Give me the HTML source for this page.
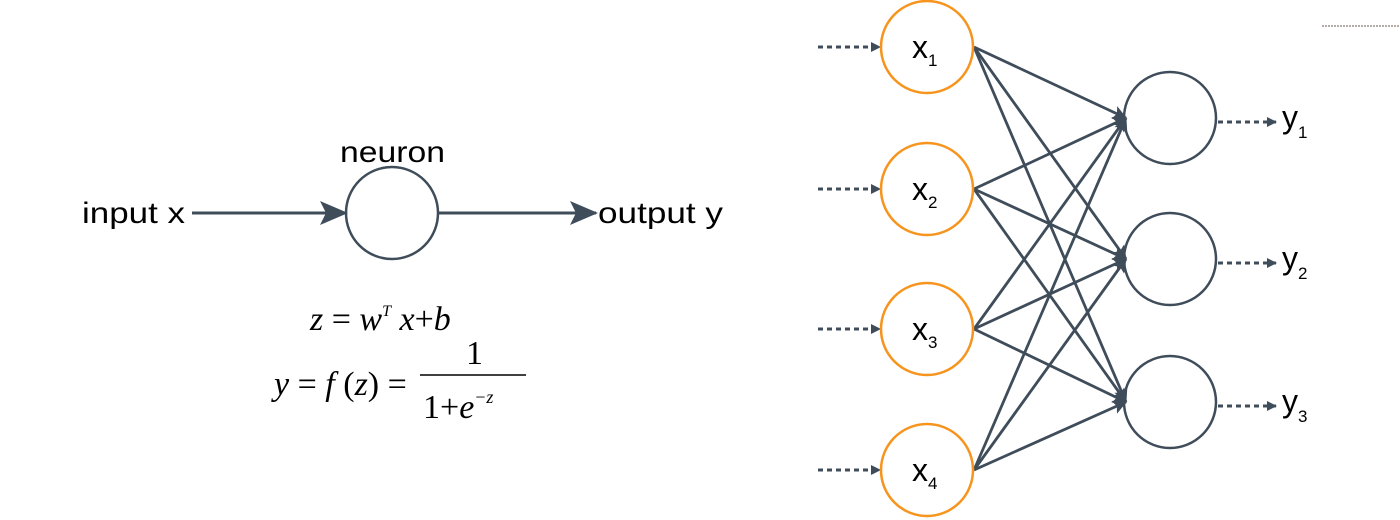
<!DOCTYPE html>
<html><head><meta charset="utf-8"><style>
html,body{margin:0;padding:0;background:#fff;width:1400px;height:520px;overflow:hidden}
svg text{font-family:"Liberation Sans","DejaVu Sans",sans-serif;fill:#000}
.m{font-family:"Liberation Serif",serif;font-style:italic}
</style></head><body>
<svg width="1400" height="520" viewBox="0 0 1400 520">
<defs>
<marker id="ah" markerWidth="10" markerHeight="10" refX="9" refY="5" orient="auto" markerUnits="userSpaceOnUse"><path d="M0,0 L10,5 L0,10 Z" fill="#3f4c5a"/></marker>
<marker id="ahb" markerWidth="28" markerHeight="24" refX="26" refY="12" orient="auto" markerUnits="userSpaceOnUse"><path d="M0,0 L28,12 L0,24 L6,12 Z" fill="#3f4c5a"/></marker>
<marker id="ahm" markerWidth="14" markerHeight="14" refX="13" refY="7" orient="auto" markerUnits="userSpaceOnUse"><path d="M0,0 L14,7 L0,14 L3,7 Z" fill="#3f4c5a"/></marker>
</defs>
<line x1="1322" y1="26" x2="1400" y2="26" stroke="#6b5a50" stroke-width="1" stroke-dasharray="2,1"/>
<g>
<text x="82" y="223" font-size="30" textLength="103" lengthAdjust="spacingAndGlyphs">input x</text>
<line x1="192" y1="213" x2="346" y2="213" stroke="#3f4c5a" stroke-width="3" marker-end="url(#ahb)"/>
<ellipse cx="392" cy="213" rx="46" ry="46" fill="none" stroke="#3f4c5a" stroke-width="2.5"/>
<text x="340" y="162" font-size="30" textLength="105" lengthAdjust="spacingAndGlyphs">neuron</text>
<line x1="438" y1="213" x2="596" y2="213" stroke="#3f4c5a" stroke-width="3" marker-end="url(#ahb)"/>
<text x="598" y="223" font-size="30" textLength="125" lengthAdjust="spacingAndGlyphs">output y</text>
<text x="310" y="330" font-size="34" class="m">z <tspan font-style="normal">=</tspan> w<tspan font-size="16" dy="-14">T</tspan><tspan dy="14"> x</tspan><tspan font-style="normal">+</tspan>b</text>
<text x="274" y="395" font-size="34" class="m">y <tspan font-style="normal">=</tspan> f <tspan font-style="normal">(</tspan>z<tspan font-style="normal">) =</tspan></text>
<text x="466" y="364" font-size="34" font-family="Liberation Serif" style="font-family:'Liberation Serif',serif">1</text>
<line x1="420" y1="375" x2="526" y2="375" stroke="#000" stroke-width="1.5"/>
<text x="423" y="418" font-size="34" class="m"><tspan font-style="normal">1+</tspan>e<tspan font-size="18" dy="-15">−z</tspan></text>
</g>
<g id="net"></g>
</svg>
<script>
const inputs=["1","2","3","4"];
const inputY=[47,189,329,470];
const outputs=["1","2","3"];
const outputY=[118,259,402];
const ns="http://www.w3.org/2000/svg";
const g=document.getElementById('net');
function mk(t,a){const e=document.createElementNS(ns,t);for(const k in a)e.setAttribute(k,a[k]);g.appendChild(e);return e;}
inputY.forEach((y,i)=>{outputY.forEach((oy,j)=>{
 const l=mk('line',{x1:974,y1:y,x2:1126,y2:oy,stroke:'#3f4c5a','stroke-width':2.8,'marker-end':'url(#ahm)'});
 
 
});});
inputY.forEach((y,i)=>{
 const d=mk('line',{x1:818,y1:y,x2:880,y2:y,stroke:'#3f4c5a','stroke-width':3,'stroke-dasharray':'5,4','marker-end':'url(#ah)'});
 
 
 const c=mk('ellipse',{cx:927,cy:y,rx:46,ry:46,fill:'none',stroke:'#f7941d','stroke-width':2.5});
 
 
 const t=mk('text',{x:912,y:y+11,'font-size':32});
 t.innerHTML='x<tspan font-size="17" dy="8">'+inputs[i]+'</tspan>';
 
 
});
outputY.forEach((y,i)=>{
 const c=mk('ellipse',{cx:1170,cy:y,rx:46,ry:46,fill:'none',stroke:'#3f4c5a','stroke-width':2.5});
 
 
 const d=mk('line',{x1:1218,y1:y+4,x2:1276,y2:y+4,stroke:'#3f4c5a','stroke-width':3,'stroke-dasharray':'5,4','marker-end':'url(#ah)'});
 
 
 const t=mk('text',{x:1282,y:y+10,'font-size':32});
 t.innerHTML='y<tspan font-size="17" dy="10">'+outputs[i]+'</tspan>';
 
 
});
</script>
</body></html>
